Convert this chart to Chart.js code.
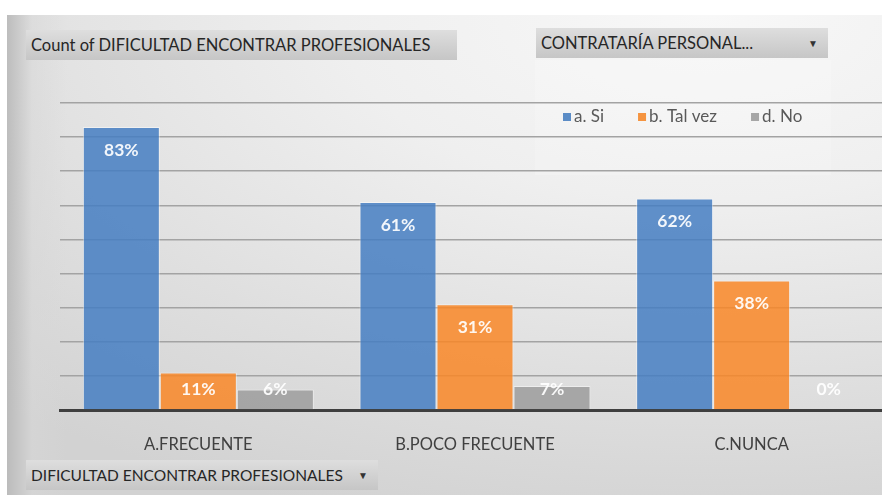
<!DOCTYPE html>
<html>
<head>
<meta charset="utf-8">
<script src="https://cdn.jsdelivr.net/npm/chart.js@4/dist/chart.umd.min.js"></script>
<style>
  html, body { margin: 0; padding: 0; background: #fff; }
  #wrap { position: relative; width: 882px; height: 495px; overflow: hidden; }
  #panel {
    position: absolute; left: 7px; top: 15px; right: 0; bottom: 0;
    background:
      linear-gradient(to right, rgba(185,185,185,0.9) 0px, rgba(215,215,215,0.5) 25px, rgba(230,230,230,0) 60px),
      radial-gradient(ellipse 120% 110% at 80% 0%, #f8f8f8 0%, #efefef 35%, #dfdfdf 70%, #d2d2d2 100%);
  }
  #chartBox { position: absolute; left: 0; top: 0; width: 900px; height: 495px; }
  .btn {
    position: absolute; font-family: Lato, sans-serif; font-size: 16.5px; color: #262626;
    background: linear-gradient(#dedede, #c6c6c6); white-space: nowrap;
    box-sizing: border-box; line-height: 30px; height: 30px; padding-left: 5px;
  }
  .arrow { position: absolute; right: 10px; top: 0; font-size: 10px; color: #333; }
  #legendBg {
    position: absolute; left: 535px; top: 60px; width: 296px; height: 115px;
    background: rgba(255,255,255,0.18);
  }
</style>
</head>
<body>
<div id="wrap">
  <div id="panel"></div>
  <div id="legendBg"></div>
  <div id="chartBox"><canvas id="myChart" width="900" height="495"></canvas></div>
  <div class="btn" style="left:26px; top:30px; width:431px;">Count of DIFICULTAD ENCONTRAR PROFESIONALES</div>
  <div class="btn" style="left:536px; top:28px; width:292px;">CONTRATARÍA PERSONAL...<span class="arrow">▼</span></div>
  <div class="btn" style="left:26px; top:460px; width:352px; font-size:15.5px;">DIFICULTAD ENCONTRAR PROFESIONALES<span class="arrow">▼</span></div>
</div>
<script>
const categories = ['A.FRECUENTE', 'B.POCO FRECUENTE', 'C.NUNCA'];
const seriesNames = ['a. Si', 'b. Tal vez', 'd. No'];
const siValues = [0.83, 0.61, 0.62];
const talVezValues = [0.11, 0.31, 0.38];
const noValues = [0.06, 0.07, 0.00];
const barColors = ['rgba(69,126,194,0.85)', 'rgba(249,135,39,0.85)', 'rgba(156,156,156,0.85)'];
const legendColors = ['#5b8cc6', '#f59440', '#a6a6a6'];

const FONT = 'Lato, sans-serif';

const barLabels = {
  id: 'barLabels',
  afterDatasetsDraw(chart) {
    const ctx = chart.ctx;
    const bottom = chart.chartArea.bottom;
    ctx.save();
    ctx.font = 'bold 17.5px ' + FONT;
    ctx.fillStyle = 'rgba(255,255,255,0.92)';
    ctx.textAlign = 'center';
    ctx.textBaseline = 'middle';
    chart.data.datasets.forEach((ds, i) => {
      chart.getDatasetMeta(i).data.forEach((bar, j) => {
        const y = Math.min(bar.y + 23, bottom - 21);
        ctx.fillText(Math.round(ds.data[j] * 100) + '%', bar.x, y);
      });
    });
    ctx.restore();
  }
};

const customLegend = {
  id: 'customLegend',
  afterDraw(chart) {
    const ctx = chart.ctx;
    ctx.save();
    ctx.font = '17px ' + FONT;
    ctx.textBaseline = 'middle';
    let x = 563;
    const y = 117;
    chart.data.datasets.forEach((ds, i) => {
      ctx.fillStyle = legendColors[i];
      ctx.fillRect(x, y - 4, 8, 8);
      ctx.fillStyle = '#595959';
      ctx.fillText(ds.label, x + 11, y);
      x += 11 + ctx.measureText(ds.label).width + 34;
    });
    ctx.restore();
  }
};

const ctx = document.getElementById('myChart').getContext('2d');
const chart = new Chart(ctx, {
  type: 'bar',
  data: {
    labels: categories,
    datasets: [siValues, talVezValues, noValues].map((d, i) => ({
      label: seriesNames[i],
      data: d,
      backgroundColor: barColors[i],
      borderColor: 'rgba(255,255,255,0.45)',
      borderWidth: 1,
      categoryPercentage: 0.835,
      barPercentage: 1
    }))
  },
  options: {
    responsive: false,
    animation: false,
    layout: { padding: { left: 60, top: 103, right: 10, bottom: 0 } },
    plugins: { legend: { display: false }, tooltip: { enabled: false } },
    scales: {
      x: {
        grid: { display: false },
        border: { color: '#3f3f3f', width: 3 },
        ticks: { color: '#404040', font: { family: FONT, size: 16.5 }, padding: 17 },
        afterFit(scale) { scale.height = 85; }
      },
      y: {
        min: 0, max: 0.9,
        ticks: { display: false, stepSize: 0.1 },
        border: { display: false },
        grid: {
          drawTicks: false,
          lineWidth: 1.6,
          color: c => c.tick.value === 0 ? 'rgba(0,0,0,0)' : '#a3a3a3'
        },
        afterFit(scale) { scale.width = 0; }
      }
    }
  },
  plugins: [barLabels, customLegend]
});
</script>
</body>
</html>
